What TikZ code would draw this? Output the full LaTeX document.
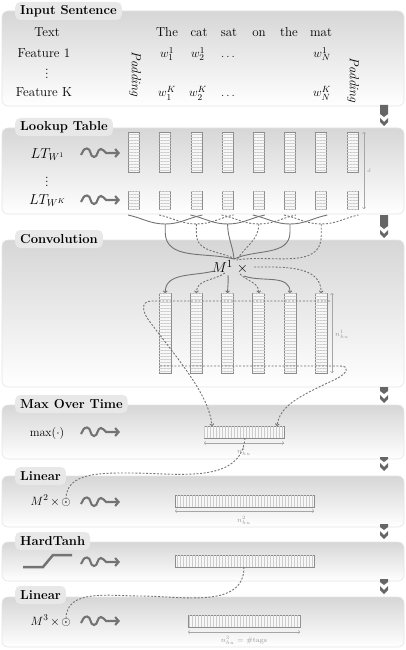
\documentclass[tikz,border=0pt]{standalone}
\usetikzlibrary{arrows.meta,patterns.meta}
\newcommand\dnarrow[2]{%
 \fill[black!60] (380,-#1) -- (388,-#1) -- (388,{-(#2-13)}) -- (384,{-(#2-10)}) -- (380,{-(#2-13)}) -- cycle;
 \fill[black!60] (380,{-(#2-9)}) -- (384,{-(#2-5)}) -- (388,{-(#2-9)}) -- (388,{-(#2-5)}) -- (384,{-(#2-1)}) -- (380,{-(#2-5)}) -- cycle;}
\newcommand\wiggle[1]{%
 \begin{scope}[shift={(0,-#1)}]
 \draw[wig] (81,-2) to[out=60,in=180] (87,4.5) to[out=0,in=180] (94,-4) to[out=0,in=180] (101,4) to[out=0,in=150] (106,0) -- (120,0);
 \end{scope}}
\begin{document}
\begin{tikzpicture}[x=1pt,y=1pt,
  panel/.style={rounded corners=6pt, top color=black!16, bottom color=white, draw=black!10, line width=0.6pt},
  tab/.style={fill=black!9, rounded corners=5pt, font=\fontsize{13}{15}\selectfont\bfseries, inner xsep=5pt, inner ysep=0pt, minimum height=18pt, anchor=west},
  txt/.style={font=\fontsize{13}{15}\selectfont, inner sep=1pt},
  pad/.style={font=\fontsize{13}{15}\selectfont\itshape, inner sep=1pt, rotate=-90},
  wig/.style={line width=2.1pt, draw=black!55, -{Straight Barb[length=3.5pt,width=8pt]}},
  colbox/.style={draw=black!45, line width=0.7pt, fill=black!3, inner sep=0pt, outer sep=0pt, postaction={pattern={Lines[angle=0,distance=3pt,line width=0.5pt]}, pattern color=black!20}},
  lcol/.style={colbox, minimum width=11pt, minimum height=40pt},
  scol/.style={colbox, minimum width=11pt, minimum height=18pt},
  ccol/.style={colbox, minimum width=12pt, minimum height=80pt},
  hbar/.style={draw=black!45, line width=0.7pt, fill=black!3, inner sep=0pt, outer sep=0pt, minimum height=12pt, postaction={pattern={Lines[angle=90,distance=3pt,line width=0.5pt]}, pattern color=black!20}},
  dim/.style={draw=black!35, line width=0.5pt, {To[length=2pt,width=3.5pt]}-{To[length=2pt,width=3.5pt]}},
  dimlbl/.style={font=\fontsize{7}{8}\selectfont, text=black!40, inner sep=0pt},
  con/.style={draw=black!55, line width=0.9pt},
  dcon/.style={con, dash pattern=on 2pt off 1.6pt},
  arr/.style={-{To[length=2.5pt,width=4.5pt]}},
]
\useasboundingbox (0,0) rectangle (405,-650);
% panels
\path[panel] (2,-11) rectangle (404,-106);
\path[panel] (2,-128) rectangle (404,-214);
\path[panel] (2,-240) rectangle (404,-387);
\path[panel] (2,-405) rectangle (404,-459);
\path[panel] (2,-476) rectangle (404,-527);
\path[panel] (2,-542) rectangle (404,-581);
\path[panel] (2,-597) rectangle (404,-647);
\node[tab] (t1) at (15,-11) {Input Sentence};
\node[tab] (t2) at (15,-127) {Lookup Table};
\node[tab] (t3) at (15,-239) {Convolution};
\node[tab] (t4) at (15,-404) {Max Over Time};
\node[tab] (t5) at (15,-476) {Linear};
\node[tab] (t6) at (15,-541) {HardTanh};
\node[tab] (t7) at (15,-595) {Linear};
% down arrows
\dnarrow{105}{127}
\dnarrow{215}{239}
\dnarrow{387}{404}
\dnarrow{457}{472}
\dnarrow{524}{540}
\dnarrow{579}{595}
% input sentence
\node[txt,anchor=base] (text) at (47,-37) {Text};
\node[txt,anchor=base] (f1) at (44,-57.5) {Feature 1};
\node[txt] (fv) at (47,-71) {$\vdots$};
\node[txt,anchor=base] (fk) at (44,-97) {Feature K};
\node[pad] (padl) at (135,-74) {Padding};
\node[pad] (padr) at (353,-80) {Padding};
\foreach \w/\x [count=\i] in {The/167,cat/199,sat/229,on/259,the/289,mat/321}
  \node[txt,anchor=base] (word\i) at (\x,-37) {\w};
\node[txt,anchor=base] (wa1) at (167,-57.5) {$w_1^1$};
\node[txt,anchor=base] (wa2) at (198,-57.5) {$w_2^1$};
\node[txt,anchor=base] (wa3) at (228,-57.5) {$\dots$};
\node[txt,anchor=base] (wa4) at (322,-57.5) {$w_N^1$};
\node[txt,anchor=base] (wk1) at (167,-97) {$w_1^K$};
\node[txt,anchor=base] (wk2) at (198,-97) {$w_2^K$};
\node[txt,anchor=base] (wk3) at (228,-97) {$\dots$};
\node[txt,anchor=base] (wk4) at (322,-97) {$w_N^K$};
% lookup table
\node[txt,font=\fontsize{14}{16}\selectfont,anchor=base] (lt1) at (47.5,-158) {$LT_{W^1}$};
\node[txt] (ltv) at (47,-179) {$\vdots$};
\node[txt,font=\fontsize{14}{16}\selectfont,anchor=base] (ltk) at (47.5,-204) {$LT_{W^K}$};
\wiggle{153}
\wiggle{200}
\foreach \x [count=\i] in {134,165.2,196.4,227.6,258.8,290,321.2,352.4}{
  \node[lcol] (a\i) at (\x,-152) {};
  \node[scol] (b\i) at (\x,-200) {};
}
\draw[dim] (364,-132) -- (364,-209);
\node[dimlbl,font=\fontsize{5}{6}\selectfont] (dl) at (369,-171) {$d$};
% windows
\foreach \i/\s in {2/con,3/dcon,4/con,5/dcon,6/con,7/dcon}{
  \pgfmathtruncatemacro\pr{\i-1}
  \pgfmathtruncatemacro\nx{\i+1}
  \draw[\s] ([xshift=-6pt,yshift=-6pt]b\pr.south) to[out=-12,in=180] ([yshift=-15pt]b\i.south) coordinate (win\i)
     to[out=0,in=-168] ([xshift=6pt,yshift=-6pt]b\nx.south);
}
\node[font=\fontsize{15}{18}\selectfont, inner sep=1pt] (M) at (230,-267) {$M^1\;{\times}$};
\coordinate (mt) at (234,-259);
\coordinate (md) at (237,-260);
\draw[con] (win2) -- ++(0,-8) to[out=-90,in=165] (mt);
\draw[dcon] (win3) -- ++(0,-10) to[out=-90,in=150] (md);
\draw[con] (win4) to[out=-90,in=95] (mt);
\draw[dcon] (win5) to[out=-90,in=60] (md);
\draw[con] (win6) -- ++(0,-8) to[out=-90,in=25] (mt);
\draw[dcon] (win7) -- ++(0,-12) to[out=-90,in=10] (md);
% convolution columns
\foreach \x [count=\j from 2] in {165.2,196.4,227.6,258.8,290,321.2}
  \node[ccol] (c\j) at (\x,-333) {};
\coordinate (s2) at (214,-271);
\coordinate (s3) at (225,-273);
\coordinate (s4) at (228,-275);
\coordinate (s5) at (240,-274);
\coordinate (s6) at (244,-276);
\coordinate (s7) at (254,-267);
\draw[con,arr] (s2) to[out=195,in=90] (c2.north);
\draw[dcon,arr] (s3) to[out=215,in=90] (c3.north);
\draw[con,arr] (s4) to[out=-85,in=90] (c4.north);
\draw[dcon,arr] (s5) to[out=-45,in=90] (c5.north);
\draw[con,arr] (s6) to[out=-20,in=90] (c6.north);
\draw[dcon,arr] (s7) to[out=0,in=90] (c7.north);
\draw[dim] (332,-293) -- (332,-373);
\node[dimlbl] (nl1) at (342,-334) {$n_{hu}^1$};
% max over time
\node[txt,anchor=base] (maxl) at (47,-436) {$\max(\cdot)$};
\wiggle{432}
\node[hbar,minimum width=80pt] (mx) at (244,-432) {};
\draw[dim] (204,-443) -- (284,-443);
\node[dimlbl] (nl2) at (244,-451) {$n_{hu}^1$};
\draw[dcon,arr] (330,-301) -- (152,-301) .. controls (140,-301) and (142,-312) .. (150,-322) .. controls (180,-362) and (209,-395) .. ([xshift=8pt]mx.north west);
\draw[dcon,arr] (160,-366) -- (340,-366) .. controls (350,-366) and (348,-373) .. (336,-379) .. controls (300,-396) and (280,-405) .. ([xshift=-7pt]mx.north east);
% linear 1
\node[txt,anchor=base east,inner sep=0pt] (m2) at (60,-505) {$M^2\,{\times}$};
\node[txt,anchor=base,inner sep=0pt] (o2) at (66,-505) {$\odot$};
\wiggle{502}
\node[hbar,minimum width=139pt] (lb1) at (244.5,-501) {};
\draw[dim] (175,-511) -- (314,-511);
\node[dimlbl] (nl3) at (244,-520) {$n_{hu}^2$};
\draw[dcon] ([xshift=1pt]mx.south) to[out=-95,in=0] (130,-473) to[out=180,in=90] ([yshift=-1pt]o2.north);
% hardtanh
\draw[line width=2.5pt, black!55] (23,-567) -- (43,-567) -- (53,-555) -- (72,-555);
\wiggle{562}
\node[hbar,minimum width=139pt] (hb) at (244.5,-561) {};
% linear 2
\node[txt,anchor=base east,inner sep=0pt] (m3) at (60,-625) {$M^3\,{\times}$};
\node[txt,anchor=base,inner sep=0pt] (o3) at (66,-625) {$\odot$};
\wiggle{621}
\node[hbar,minimum width=112pt] (lb2) at (244,-621) {};
\draw[dim] (188,-632) -- (300,-632);
\node[dimlbl] (nl4) at (244,-640) {$n_{hu}^3$ = \#tags};
\draw[dcon] ([xshift=-0.5pt]hb.south) to[out=-90,in=0] (140,-596) to[out=180,in=90] ([yshift=-1pt]o3.north);
\end{tikzpicture}
\end{document}
